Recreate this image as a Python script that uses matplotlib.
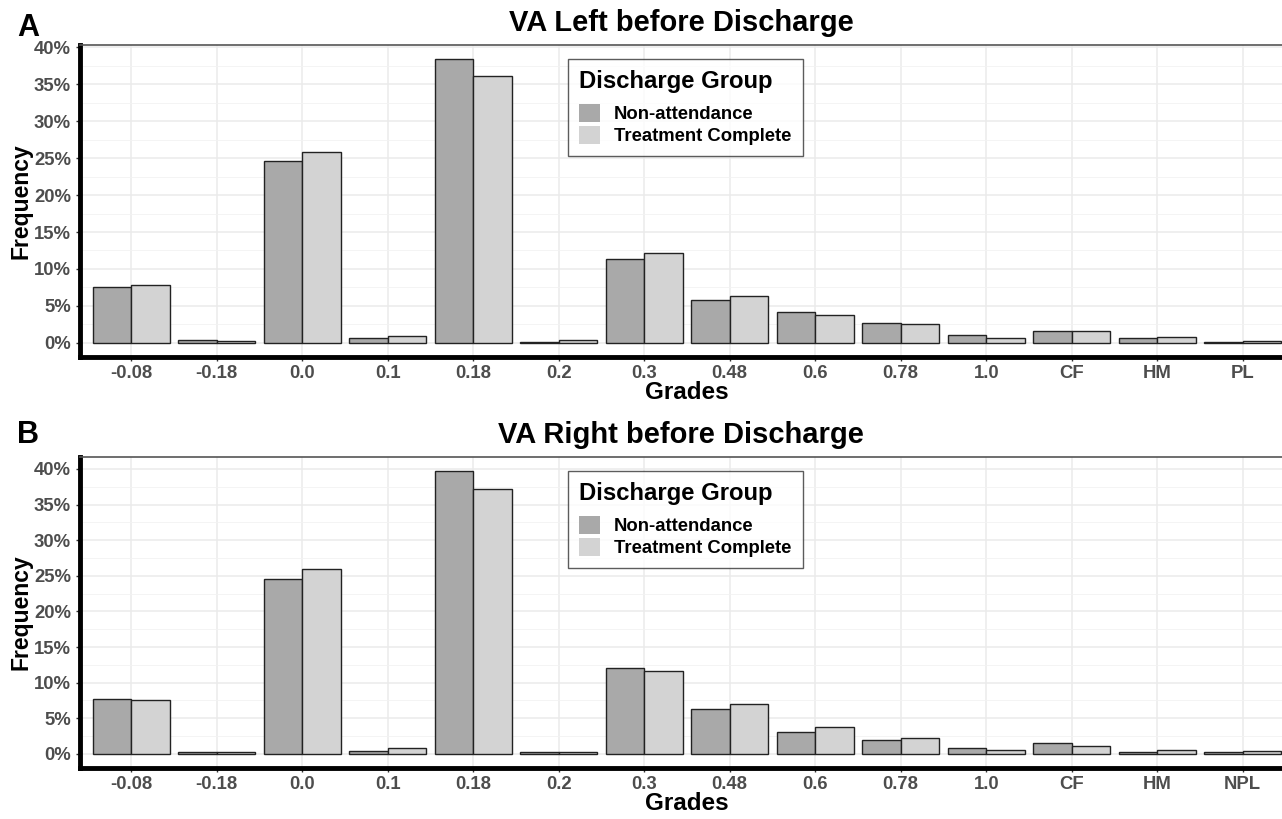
import matplotlib
matplotlib.use("agg")
import matplotlib.pyplot as plt
from matplotlib.patches import Patch
from matplotlib.ticker import MultipleLocator, FuncFormatter
import numpy as np

plt.rcParams['font.family'] = ['Liberation Sans', 'DejaVu Sans']

# grades on the x axis
grades_left = ["-0.08", "-0.18", "0.0", "0.1", "0.18", "0.2", "0.3", "0.48",
               "0.6", "0.78", "1.0", "CF", "HM", "PL"]
grades_right = ["-0.08", "-0.18", "0.0", "0.1", "0.18", "0.2", "0.3", "0.48",
                "0.6", "0.78", "1.0", "CF", "HM", "NPL"]

# frequencies in percent
left_nonattend = [7.5, 0.4, 24.6, 0.6, 38.4, 0.1, 11.4, 5.8, 4.2, 2.7, 1.1, 1.6, 0.6, 0.15]
left_complete = [7.8, 0.2, 25.9, 0.9, 36.1, 0.4, 12.1, 6.4, 3.8, 2.6, 0.7, 1.6, 0.8, 0.25]
right_nonattend = [7.7, 0.3, 24.5, 0.4, 39.7, 0.2, 12.0, 6.3, 3.1, 2.0, 0.85, 1.55, 0.2, 0.25]
right_complete = [7.6, 0.3, 26.0, 0.8, 37.2, 0.2, 11.7, 7.0, 3.8, 2.25, 0.55, 1.1, 0.6, 0.4]

group_names = ["Non-attendance", "Treatment Complete"]
group_colors = ["#A9A9A9", "#D3D3D3"]

W, H = 1282, 819
fig = plt.figure(figsize=(W / 100, H / 100), dpi=100)


def panel(rect, grades, na, tc, title, letter, letter_y):
    ax = fig.add_axes(rect)
    x = np.arange(len(grades))
    w = 0.45
    ax.bar(x - w / 2, na, width=w, color=group_colors[0], edgecolor="#222222", linewidth=1.0, zorder=3)
    ax.bar(x + w / 2, tc, width=w, color=group_colors[1], edgecolor="#222222", linewidth=1.0, zorder=3)

    top = max(max(na), max(tc))
    ax.set_ylim(-0.05 * top, 1.05 * top)
    ax.set_xlim(-0.6, len(grades) - 0.4)
    ax.set_xticks(x)
    ax.set_xticklabels(grades)
    ax.yaxis.set_major_locator(MultipleLocator(5))
    ax.yaxis.set_minor_locator(MultipleLocator(2.5))
    ax.yaxis.set_major_formatter(FuncFormatter(lambda v, p: "%d%%" % v))
    ax.grid(which="major", color="#EBEBEB", linewidth=1.1, zorder=0)
    ax.grid(which="minor", axis="y", color="#F2F2F2", linewidth=0.6, zorder=0)
    ax.set_axisbelow(True)

    for t in ax.get_xticklabels() + ax.get_yticklabels():
        t.set_fontweight("bold")
        t.set_color("#4D4D4D")
        t.set_fontsize(13.3)
    ax.tick_params(axis="both", which="major", length=3, color="#333333", width=1)
    ax.tick_params(axis="y", which="minor", length=0)
    ax.tick_params(axis="x", pad=3)

    ax.spines["left"].set_linewidth(3.5)
    ax.spines["bottom"].set_linewidth(3.5)
    ax.spines["left"].set_color("black")
    ax.spines["bottom"].set_color("black")
    ax.spines["top"].set_color("#555555")
    ax.spines["top"].set_linewidth(1.2)
    ax.spines["right"].set_visible(False)

    ax.set_xlabel("Grades", fontsize=17.5, fontweight="bold", labelpad=-1)
    ax.set_ylabel("Frequency", fontsize=16.5, fontweight="bold", labelpad=1)
    fig.text((80 + 1282) / 2 / W, rect[1] + rect[3] + 0.01, title, ha="center", va="bottom",
             fontsize=21, fontweight="bold")
    fig.text(17 / W, letter_y, letter, ha="left", va="center", fontsize=22, fontweight="bold")

    handles = [Patch(facecolor=c, edgecolor="none") for c in group_colors]
    leg = ax.legend(handles, group_names, title="Discharge Group", loc="upper left",
                    bbox_to_anchor=((568 - 80) / (1294 - 80), 0.955), frameon=True, fancybox=False,
                    prop={"weight": "bold", "size": 13.3}, handlelength=1.15, handleheight=1.1,
                    handletextpad=0.75, labelspacing=0.15, borderpad=0.6, borderaxespad=0)
    leg.get_title().set_fontweight("bold")
    leg.get_title().set_fontsize(17.2)
    leg.get_frame().set_edgecolor("#333333")
    leg.get_frame().set_linewidth(1.0)
    leg._legend_box.align = "left"
    leg._legend_box.sep = 8
    return ax


left = 80 / W
width = (1294 - 80) / W
panel([left, 1 - 357 / H, width, (357 - 45) / H], grades_left, left_nonattend, left_complete,
      "VA Left before Discharge", "A", 1 - 28 / H)
panel([left, 1 - 768 / H, width, (768 - 457) / H], grades_right, right_nonattend, right_complete,
      "VA Right before Discharge", "B", 1 - 435 / H)

fig.savefig("out.png", dpi=100)
